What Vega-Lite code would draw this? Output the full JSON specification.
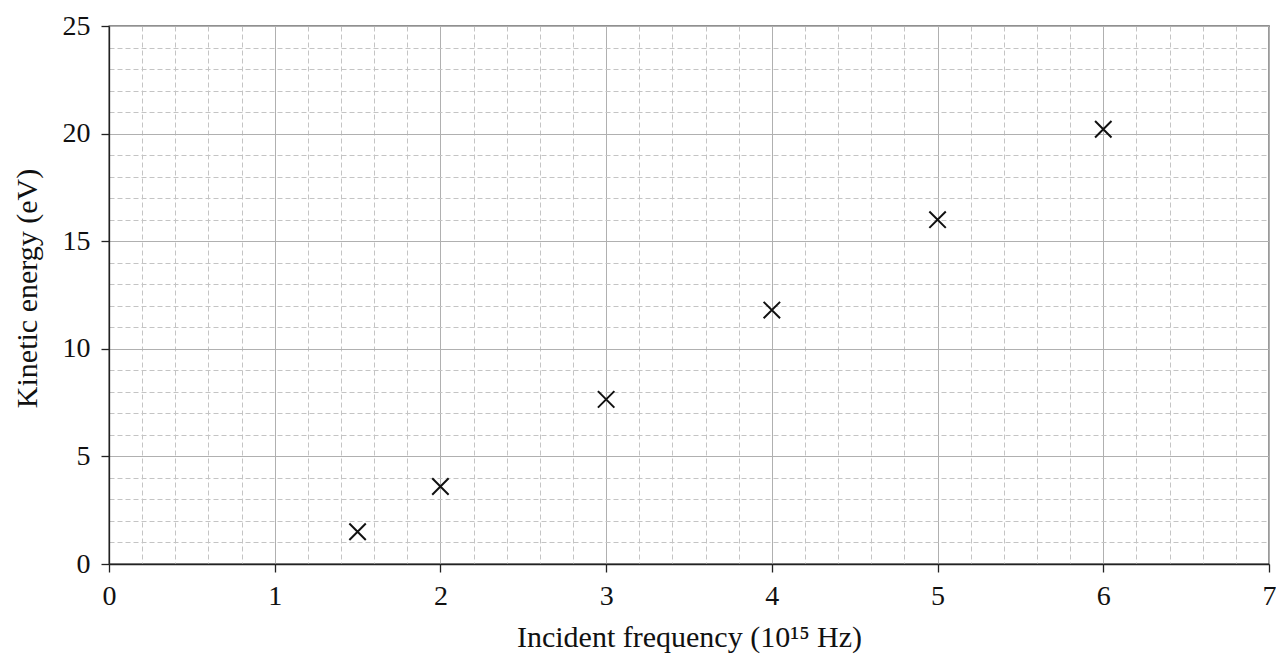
{
  "$schema": "https://vega.github.io/schema/vega-lite/v6.json",
  "width": 1160,
  "height": 538,
  "autosize": {"type": "none"},
  "padding": {"left": 109, "top": 26, "right": 7, "bottom": 90},
  "background": "white",
  "config": {
    "font": "Liberation Serif",
    "view": {"stroke": "#222222", "strokeWidth": 1.3}
  },
  "data": {
    "values": [
      {"f": 1.5, "ke": 1.5},
      {"f": 2, "ke": 3.6},
      {"f": 3, "ke": 7.65},
      {"f": 4, "ke": 11.8},
      {"f": 5, "ke": 16.0},
      {"f": 6, "ke": 20.2}
    ]
  },
  "mark": {"type": "point", "shape": "M-1,-1L1,1M-1,1L1,-1", "stroke": "#111111", "strokeWidth": 2, "filled": false, "size": 270, "opacity": 1},
  "encoding": {
    "x": {
      "field": "f", "type": "quantitative",
      "scale": {"domain": [0, 7], "nice": false, "zero": false},
      "axis": {
        "title": "Incident frequency (10¹⁵ Hz)",
        "values": [0, 0.2, 0.4, 0.6, 0.8, 1, 1.2, 1.4, 1.6, 1.8, 2, 2.2, 2.4, 2.6, 2.8, 3, 3.2, 3.4, 3.6, 3.8, 4, 4.2, 4.4, 4.6, 4.8, 5, 5.2, 5.4, 5.6, 5.8, 6, 6.2, 6.4, 6.6, 6.8, 7],
        "labelExpr": "abs(datum.value - round(datum.value)) < 0.001 ? format(datum.value, 'd') : ''",
        "grid": true,
        "gridColor": {"condition": {"test": "abs(datum.value - round(datum.value)) < 0.001", "value": "#b0b0b0"}, "value": "#c4c4c4"},
        "gridDash": {"condition": {"test": "abs(datum.value - round(datum.value)) < 0.001", "value": []}, "value": [5, 3]},
        "gridWidth": 1,
        "tickOpacity": {"condition": {"test": "abs(datum.value - round(datum.value)) < 0.001", "value": 1}, "value": 0},
        "tickColor": "#222222",
        "tickSize": 8,
        "tickWidth": 1.3,
        "domain": true,
        "domainColor": "#222222",
        "domainWidth": 1.3,
        "labelFontSize": 28,
        "labelColor": "#111111",
        "labelPadding": 10,
        "labelFlush": false,
        "labelOverlap": false,
        "titleFontSize": 30,
        "titleFontWeight": "normal",
        "titleColor": "#111111",
        "titlePadding": 12
      }
    },
    "y": {
      "field": "ke", "type": "quantitative",
      "scale": {"domain": [0, 25], "nice": false, "zero": false},
      "axis": {
        "title": "Kinetic energy (eV)",
        "values": [0, 1, 2, 3, 4, 5, 6, 7, 8, 9, 10, 11, 12, 13, 14, 15, 16, 17, 18, 19, 20, 21, 22, 23, 24, 25],
        "labelExpr": "datum.value % 5 === 0 ? format(datum.value, 'd') : ''",
        "grid": true,
        "gridColor": {"condition": {"test": "datum.value % 5 === 0", "value": "#b0b0b0"}, "value": "#c4c4c4"},
        "gridDash": {"condition": {"test": "datum.value % 5 === 0", "value": []}, "value": [5, 3]},
        "gridWidth": 1,
        "tickOpacity": {"condition": {"test": "datum.value % 5 === 0", "value": 1}, "value": 0},
        "tickColor": "#222222",
        "tickSize": 8,
        "tickWidth": 1.3,
        "domain": true,
        "domainColor": "#222222",
        "domainWidth": 1.3,
        "labelFontSize": 28,
        "labelColor": "#111111",
        "labelPadding": 11,
        "labelFlush": false,
        "labelOverlap": false,
        "titleFontSize": 30,
        "titleFontWeight": "normal",
        "titleColor": "#111111",
        "titlePadding": 20,
        "titleY": 262
      }
    }
  }
}
